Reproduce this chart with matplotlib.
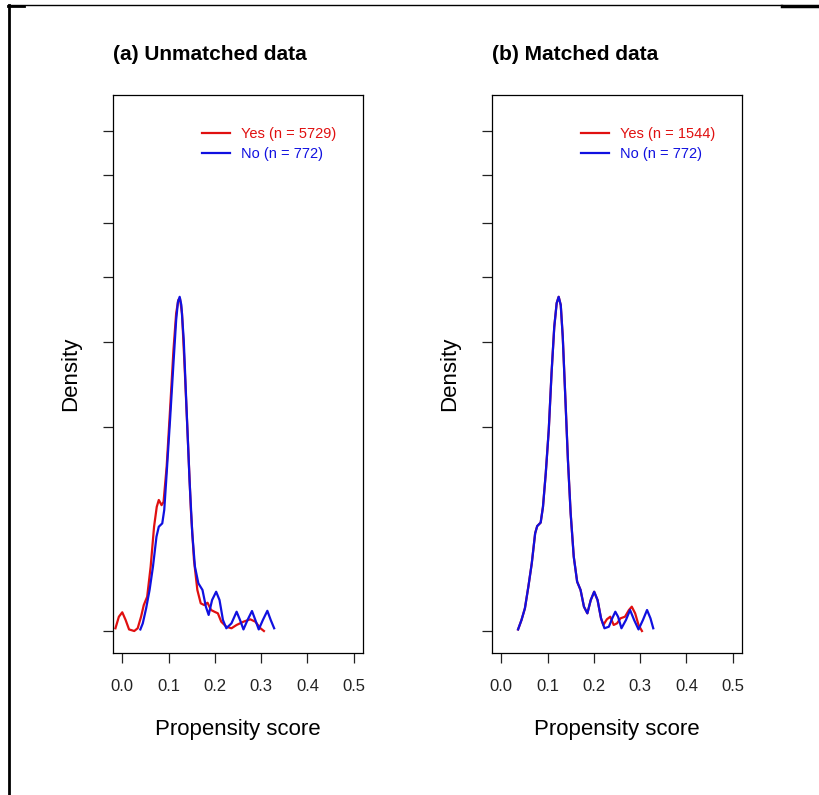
import numpy as np
import matplotlib.pyplot as plt
from matplotlib.lines import Line2D

plt.rcParams['font.family'] = ['Liberation Sans', 'DejaVu Sans']

# kernel density estimates of the propensity score, panel (a): unmatched
a_yes_x = [-0.0147, -0.0073, 0.0, 0.0073, 0.0147, 0.0259, 0.0333, 0.0406, 0.0465,
           0.0538, 0.0613, 0.0687, 0.0745, 0.0789, 0.0849, 0.0892, 0.0959, 0.1032,
           0.1106, 0.1164, 0.121, 0.1246, 0.1291, 0.135, 0.1417, 0.1482, 0.1549,
           0.1622, 0.1695, 0.1769, 0.1842, 0.1918, 0.1991, 0.2065, 0.2138, 0.2248,
           0.2359, 0.247, 0.2618, 0.2765, 0.2875, 0.2985, 0.306]
a_yes_d = [0.0009, 0.0245, 0.042, 0.0145, 0.0003, 0.0, 0.0009, 0.0245, 0.081,
           0.141, 0.496, 1.305, 1.85, 2.06, 1.90, 2.0, 3.24, 5.86,
           9.47, 12.1, 13.14, 13.27, 12.1, 8.17, 4.38, 1.76, 0.605,
           0.202, 0.092, 0.081, 0.096, 0.053, 0.0446, 0.0376, 0.0104, 0.0022,
           0.0009, 0.0044, 0.0104, 0.0164, 0.0104, 0.0009, 0.0]

a_no_x = [0.0391, 0.0443, 0.0516, 0.059, 0.0663, 0.0739, 0.0789, 0.0864, 0.0907,
          0.0959, 0.1032, 0.1106, 0.1164, 0.1203, 0.124, 0.1276, 0.1328, 0.1387,
          0.1453, 0.1512, 0.157, 0.1644, 0.1733, 0.1806, 0.1866, 0.194, 0.2028,
          0.2101, 0.2175, 0.2248, 0.2359, 0.247, 0.2544, 0.2618, 0.2706, 0.2802,
          0.2875, 0.2948, 0.3037, 0.3134, 0.3207, 0.3281]
a_no_d = [0.0003, 0.007, 0.062, 0.202, 0.496, 1.067, 1.305, 1.39, 1.76,
          2.98, 5.34, 8.6, 11.6, 13.0, 13.4, 12.75, 10.16, 6.04,
          2.74, 1.145, 0.496, 0.273, 0.202, 0.071, 0.031, 0.115, 0.185,
          0.115, 0.0145, 0.0009, 0.0071, 0.0446, 0.0145, 0.0003, 0.0145, 0.048,
          0.0145, 0.0003, 0.0145, 0.049, 0.0145, 0.0009]

# panel (b): matched
b_no_x = [0.0363, 0.0437, 0.0511, 0.0585, 0.0659, 0.0732, 0.0776, 0.0851, 0.0901,
          0.0961, 0.1026, 0.1086, 0.1145, 0.1197, 0.124, 0.1285, 0.1328, 0.138,
          0.144, 0.1499, 0.1566, 0.1639, 0.1713, 0.1786, 0.186, 0.1933, 0.2007,
          0.208, 0.2155, 0.2229, 0.2324, 0.2397, 0.2464, 0.2523, 0.2596, 0.2693,
          0.2782, 0.287, 0.2965, 0.306, 0.3149, 0.3223, 0.3283]
b_no_d = [0.0003, 0.0145, 0.062, 0.235, 0.55, 1.145, 1.32, 1.41, 1.85,
          2.98, 4.85, 7.97, 11.1, 12.9, 13.4, 12.75, 10.4, 6.78,
          3.51, 1.66, 0.662, 0.292, 0.202, 0.071, 0.0376, 0.115, 0.185,
          0.115, 0.0193, 0.0009, 0.0022, 0.0193, 0.0446, 0.0245, 0.0009, 0.0145,
          0.053, 0.0145, 0.0003, 0.0145, 0.053, 0.0193, 0.0009]

b_yes_x = [0.0363, 0.0437, 0.0511, 0.0585, 0.0659, 0.0732, 0.0776, 0.0851, 0.0901,
           0.0961, 0.1026, 0.1086, 0.1145, 0.1197, 0.124, 0.1285, 0.1328, 0.138,
           0.144, 0.1499, 0.1566, 0.1639, 0.1713, 0.1786, 0.186, 0.1933, 0.2007,
           0.208, 0.2155, 0.2205, 0.2281, 0.2354, 0.2428, 0.2501, 0.2575, 0.2672,
           0.2758, 0.2819, 0.2892, 0.2965, 0.3039]
b_yes_d = [0.0003, 0.0145, 0.062, 0.235, 0.55, 1.145, 1.32, 1.41, 1.85,
           2.98, 4.85, 7.97, 11.1, 12.9, 13.4, 12.75, 10.4, 6.78,
           3.51, 1.66, 0.662, 0.292, 0.202, 0.071, 0.0376, 0.115, 0.185,
           0.115, 0.0193, 0.0044, 0.0164, 0.0245, 0.0044, 0.0071, 0.0193, 0.0245,
           0.053, 0.071, 0.0376, 0.0044, 0.0]

titles = ['(a) Unmatched data', '(b) Matched data']
n_yes = [5729, 1544]
n_no = [772, 772]
x_ticks = [0.0, 0.1, 0.2, 0.3, 0.4, 0.5]
y_ticks = [0, 5, 10, 15, 20, 25, 30]

red = '#e01010'
blue = '#1010e0'


# density axis is drawn on a square-root scale
def fwd(d):
    d = np.asarray(d, dtype=float)
    return np.sign(d) * np.sqrt(np.abs(d))


def inv(s):
    s = np.asarray(s, dtype=float)
    return np.sign(s) * s ** 2


W, H = 820, 795
fig = plt.figure(figsize=(W / 100, H / 100), dpi=100)

panels = [(a_yes_x, a_yes_d, a_no_x, a_no_d), (b_yes_x, b_yes_d, b_no_x, b_no_d)]
lefts = [113, 492]

for i, (yx, yd, nx, nd) in enumerate(panels):
    ax = fig.add_axes([lefts[i] / W, (H - 653) / H, 250 / W, 558 / H])
    ax.plot(yx, yd, color=red, lw=1.6, label='Yes (n = %d)' % n_yes[i])
    ax.plot(nx, nd, color=blue, lw=1.6, label='No (n = %d)' % n_no[i])
    ax.set_yscale('function', functions=(fwd, inv))
    ax.set_xlim(-0.02, 0.52)
    ax.set_ylim(-0.058, 34.47)
    ax.set_xticks(x_ticks)
    ax.set_xticklabels(['%.1f' % t for t in x_ticks])
    ax.set_yticks(y_ticks)
    ax.set_yticklabels([])
    ax.minorticks_off()
    ax.tick_params(direction='out', length=7.5, width=0.9, labelsize=12,
                   pad=11, colors='#222222')
    for s in ax.spines.values():
        s.set_linewidth(0.9)
    ax.set_xlabel('Propensity score', fontsize=16, labelpad=18)
    ax.set_ylabel('Density', fontsize=16, labelpad=4.5)
    ax.set_title(titles[i], fontsize=15, fontweight='bold', loc='left',
                 x=0.0, y=1.0, pad=25.5)
    ax.legend(loc='upper left', bbox_to_anchor=(0.356, 0.942),
              frameon=False, fontsize=10.5, handlelength=1.9,
              handletextpad=0.75, labelspacing=0.4, borderpad=0,
              borderaxespad=0, labelcolor='linecolor')

# outer frame pieces
fig.add_artist(Line2D([8 / W, 782 / W], [1 - 5 / H, 1 - 5 / H], color='black', lw=1.0))
fig.add_artist(Line2D([8 / W, 24 / W], [1 - 5.5 / H, 1 - 5.5 / H], color='black', lw=2.0))
fig.add_artist(Line2D([782 / W, 820 / W], [1 - 6 / H, 1 - 6 / H], color='black', lw=2.5))
fig.add_artist(Line2D([9 / W, 9 / W], [1 - 5 / H, 0], color='black', lw=2.0))

fig.savefig('out.png', dpi=100)
